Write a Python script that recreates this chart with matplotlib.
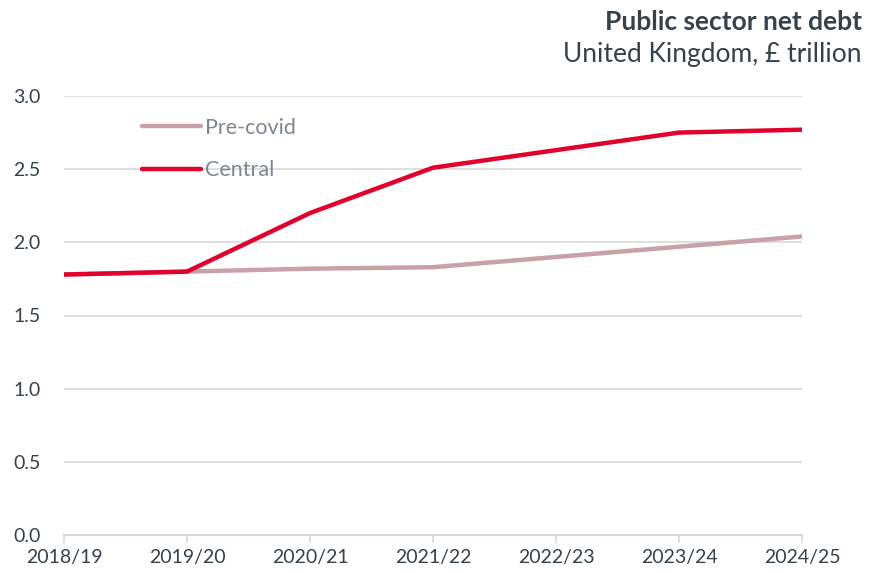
import matplotlib

matplotlib.use("Agg")
import matplotlib.pyplot as plt

# --- datos (£ trillion) ---
years = ["2018/19", "2019/20", "2020/21", "2021/22", "2022/23", "2023/24", "2024/25"]
pre_covid = [1.78, 1.80, 1.82, 1.83, 1.90, 1.97, 2.04]
central = [1.78, 1.80, 2.20, 2.51, 2.63, 2.75, 2.77]
yticks = [0.0, 0.5, 1.0, 1.5, 2.0, 2.5, 3.0]

TEXT = "#36414b"
GRID = "#d9d9d9"
RED = "#e2012d"
PINK = "#c9a1a8"

plt.rcParams["font.family"] = ["Lato", "DejaVu Sans"]

fig = plt.figure(figsize=(8.84, 5.73), dpi=100)
ax = fig.add_axes([64 / 884, 38 / 573, (802 - 64) / 884, (535 - 96) / 573])

x = range(len(years))
ax.plot(x, pre_covid, color=PINK, lw=3.2, solid_capstyle="round", label="Pre-covid", zorder=3)
ax.plot(x, central, color=RED, lw=3.2, solid_capstyle="round", label="Central", zorder=4)

ax.set_xlim(0, len(years) - 1)
ax.set_ylim(0, 3.0)
ax.set_yticks(yticks)
ax.set_yticklabels([f"{v:.1f}" for v in yticks])
ax.set_xticks(list(x))
ax.set_xticklabels(years)

for v in yticks[1:]:
    ax.axhline(v, color=GRID, lw=1.2, zorder=1)

for s in ["top", "right", "left"]:
    ax.spines[s].set_visible(False)
ax.spines["bottom"].set_color(GRID)
ax.spines["bottom"].set_linewidth(1.5)

ax.tick_params(axis="y", length=0, pad=17, labelsize=14, labelcolor=TEXT)
ax.tick_params(axis="x", length=6, width=1.2, color=GRID, direction="out",
               pad=4, labelsize=14, labelcolor=TEXT)

leg = ax.legend(loc="upper left", bbox_to_anchor=(0.08, 0.995), frameon=False,
                handlelength=2.7, handletextpad=0.2, labelspacing=1.05, fontsize=15.5)
for t in leg.get_texts():
    t.set_color("#7d868f")

fig.text(0.975, 0.948, "Public sector net debt", ha="right", va="baseline",
         fontsize=19, fontweight="bold", color=TEXT)
fig.text(0.975, 0.892, "United Kingdom, £ trillion", ha="right", va="baseline",
         fontsize=19, color=TEXT)

fig.savefig("out.png", dpi=100)
